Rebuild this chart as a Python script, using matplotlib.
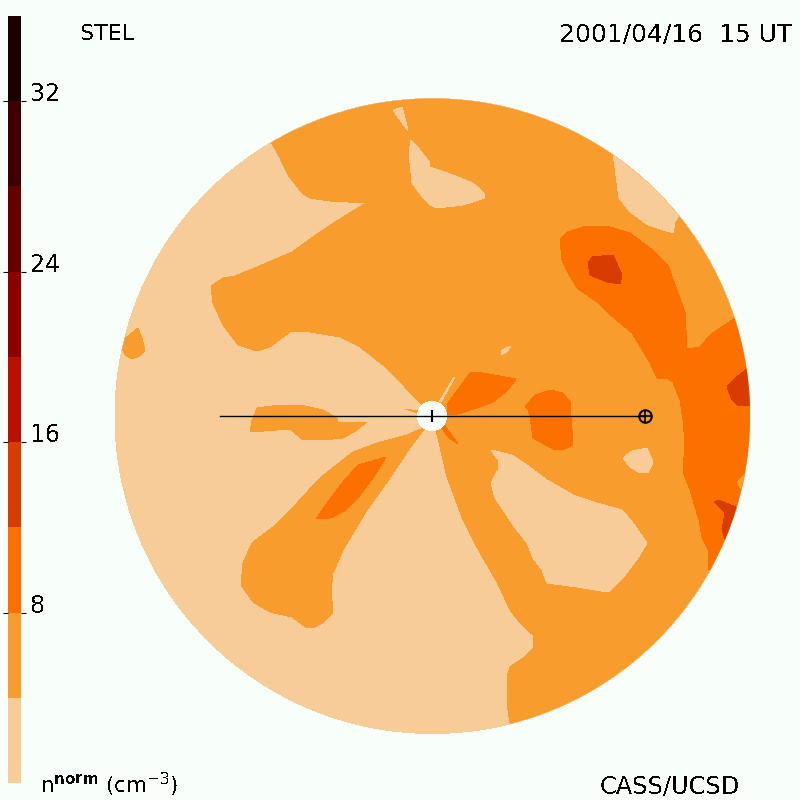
#!/usr/bin/env python3
"""Remote sensed density sphere, STEL, 2001/04/16 15 UT - figure generation"""

import matplotlib
matplotlib.use('Agg')
import matplotlib.pyplot as plt
from matplotlib.patches import Circle

plt.rcParams['font.family'] = ['DejaVu Sans']
plt.rcParams['mathtext.fontset'] = 'dejavusans'
plt.rcParams['text.antialiased'] = False

# Colour bar
LEVELS = [0, 4, 8, 12, 16, 20, 24, 28, 32]
LEVEL_COLORS = ['#F8CC98', '#F99C2E', '#FC7000', '#D93C00', '#BB0F00',
                '#8D0000', '#640000', '#3F0000', '#1C0000']
LEVEL_STEP = 4
CBAR_TICKS = [8, 16, 24, 32]

BACKGROUND = '#F8FFFB'

# Sphere, Sun and Earth in image coordinates
DISK_CENTER = (432.5, 416)
DISK_RADIUS = 317.5
SUN_RADIUS = 14.5
SUN_XY = (432, 416)
EARTH_XY = (645, 416)
LOS_X = [220, 645]
LOS_Y = [416, 416]

# Contour outlines, as (level index, outline)
# -- level 1
main_orange = [(271, 142), (280, 158), (288, 175), (302, 193), (310, 198), (330, 201),
               (366, 203), (343, 217), (320, 232), (292, 252), (257, 267), (235, 276),
               (223, 278), (211, 286), (213, 303), (223, 325), (238, 345), (257, 351),
               (270, 347), (282, 338), (290, 332), (310, 332), (340, 337), (360, 347),
               (383, 365), (403, 385), (422, 405), (436, 430), (447, 477), (463, 520),
               (480, 553), (497, 582), (510, 610), (520, 623), (533, 635), (533, 648),
               (523, 658), (510, 667), (507, 677), (507, 703), (510, 723), (510, 760),
               (800, 760), (800, 40), (260, 40), (265, 130)]
left_blob = [(138, 328), (142, 338), (145, 351), (138, 357), (132, 359), (125, 355),
             (122, 348), (123, 340)]
mid_left_band = [(253, 418), (257, 408), (280, 405), (300, 405), (323, 410), (337, 418),
                 (338, 423), (367, 422), (357, 430), (343, 438), (323, 440), (303, 440),
                 (297, 435), (290, 429), (250, 432), (252, 420)]
hole_wedge_left = [(405, 409), (418, 411), (418, 413)]
lower_arm = [(425, 428), (407, 452), (390, 478), (367, 510), (343, 550), (333, 573),
             (331, 590), (333, 613), (323, 623), (313, 628), (307, 628), (292, 617),
             (270, 612), (253, 602), (241, 585), (243, 563), (252, 543), (273, 527),
             (297, 503), (320, 478), (353, 452), (377, 443), (407, 435), (418, 430)]

# -- level 0 islands on top of level 1
top_sliver = [(393, 110), (402, 107), (405, 118), (408, 131), (400, 120)]
top_island = [(411, 140), (409, 153), (412, 183), (423, 198), (430, 205), (437, 208),
              (463, 205), (485, 198), (485, 194), (473, 183), (453, 175), (430, 167),
              (430, 163), (420, 150)]
rim_island = [(613, 153), (619, 198), (630, 212), (648, 225), (673, 233), (675, 222),
              (679, 215), (700, 180), (640, 130)]
small_fleck = [(501, 355), (502, 350), (511, 346), (507, 352)]
thin_ray = [(439, 402), (454, 377), (455, 377), (441, 402)]
se_island = [(491, 450), (512, 455), (527, 465), (547, 480), (573, 495), (597, 503),
             (622, 510), (633, 523), (647, 543), (638, 558), (623, 578), (608, 592),
             (577, 587), (547, 583), (542, 570), (533, 558), (527, 543), (513, 525),
             (495, 498), (491, 483), (498, 470), (498, 460)]
small_island = [(623, 458), (632, 451), (647, 448), (653, 462), (648, 473), (640, 473),
                (630, 467)]

# -- level 2
arm_core = [(386, 457), (373, 478), (358, 498), (343, 512), (330, 518), (316, 519),
            (327, 503), (343, 482), (358, 465)]
hole_wedge_low = [(443, 423), (458, 444), (448, 437), (441, 427)]
ne_of_sun = [(447, 410), (448, 403), (470, 373), (477, 372), (516, 379), (508, 390),
             (493, 402), (477, 408), (458, 414), (448, 415)]
east_of_sun = [(525, 407), (535, 395), (550, 390), (563, 393), (571, 403), (571, 418),
               (572, 430), (573, 445), (563, 450), (553, 449), (533, 438), (530, 417),
               (528, 410)]
east_band = [(560, 240), (567, 232), (587, 226), (610, 227), (630, 233), (650, 248),
             (668, 265), (678, 293), (685, 312), (687, 349), (700, 347), (710, 335),
             (735, 318), (780, 320), (790, 450), (760, 570), (709, 570), (708, 550),
             (702, 537), (699, 520), (690, 490), (683, 472), (685, 443), (683, 420),
             (680, 400), (673, 382), (668, 379), (657, 378), (650, 363), (632, 333),
             (613, 317), (597, 302), (577, 288), (568, 273), (562, 260)]

# -- level 1 notch on the east rim
rim_notch = [(737, 483), (745, 474), (760, 474), (760, 492), (742, 490)]

# -- level 3
band_core = [(588, 263), (592, 257), (613, 255), (622, 275), (620, 284), (607, 282),
             (590, 275)]
rim_core_north = [(747, 369), (735, 378), (727, 387), (732, 400), (738, 406), (770, 406),
                  (770, 369)]
rim_core_south = [(714, 502), (718, 500), (736, 507), (750, 507), (740, 545), (725, 539),
                  (722, 530), (725, 513), (720, 508)]

# Painted in this order, later outlines cover earlier ones
CONTOURS = [
    (1, main_orange), (1, left_blob), (1, mid_left_band), (1, hole_wedge_left), (1, lower_arm),
    (0, top_sliver), (0, top_island), (0, rim_island), (0, small_fleck), (0, thin_ray),
    (0, se_island), (0, small_island),
    (2, arm_core), (2, hole_wedge_low), (2, ne_of_sun), (2, east_of_sun), (2, east_band),
    (1, rim_notch),
    (3, band_core), (3, rim_core_north), (3, rim_core_south),
]

fig = plt.figure(figsize=(8, 8), dpi=100, facecolor=BACKGROUND)
ax = fig.add_axes([0, 0, 1, 1])
ax.set_xlim(0, 800)
ax.set_ylim(800, 0)
ax.axis('off')

# Sphere and contours
disk = Circle(DISK_CENTER, DISK_RADIUS, facecolor=LEVEL_COLORS[0], edgecolor='none',
              antialiased=False, zorder=1)
ax.add_patch(disk)
for level, outline in CONTOURS:
    xs, ys = zip(*outline)
    patches = ax.fill(xs, ys, color=LEVEL_COLORS[level], linewidth=0, antialiased=False, zorder=2)
    patches[0].set_clip_path(disk)

# Sun, line of sight and Earth
ax.add_patch(Circle(SUN_XY, SUN_RADIUS, facecolor=BACKGROUND, edgecolor='none',
                    antialiased=False, zorder=3))
ax.plot(LOS_X, LOS_Y, color='black', linewidth=1.0, zorder=4)
ax.plot(*SUN_XY, marker='|', color='black', markersize=9, markeredgewidth=1.5, zorder=5)
ax.plot(*EARTH_XY, marker='o', markerfacecolor='none', markeredgecolor='black',
        markersize=9, markeredgewidth=1.5, zorder=5)
ax.plot(*EARTH_XY, marker='+', color='black', markersize=9, markeredgewidth=1.2, zorder=5)

# Colour bar, 13 px wide, 767 px tall
cax = fig.add_axes([8 / 800, 1 - 783 / 800, 13 / 800, 767 / 800])
cax.bar([0] * len(LEVELS), [LEVEL_STEP] * len(LEVELS), bottom=LEVELS, width=1,
        color=LEVEL_COLORS, linewidth=0, antialiased=False)
cax.set_xlim(-0.5, 0.5)
cax.set_ylim(LEVELS[0], LEVELS[-1] + LEVEL_STEP)
cax.set_xticks([])
cax.set_yticks(CBAR_TICKS)
cax.set_yticklabels([])
cax.tick_params(axis='y', left=True, right=True, length=3.6, width=0.8, color='black')
for side in cax.spines.values():
    side.set_visible(False)
for tick in CBAR_TICKS:
    cax.annotate(str(tick), xy=(1, tick), xycoords=('axes fraction', 'data'),
                 xytext=(9, 0), textcoords='offset pixels', fontsize=17,
                 ha='left', va='baseline', color='black')

# Titles
fig.text(80 / 800, 1 - 40 / 800, 'STEL', fontsize=16, ha='left', va='baseline', color='black')
fig.text(792 / 800, 1 - 41 / 800, '2001/04/16  15 UT', fontsize=18, ha='right', va='baseline', color='black')
fig.text(40 / 800, 1 - 793 / 800, r'n$^{\mathbf{norm}}$ (cm$^{-3}$)', fontsize=15.5,
         ha='left', va='baseline', color='black')
fig.text(740 / 800, 1 - 793 / 800, 'CASS/UCSD', fontsize=17.3, ha='right', va='baseline', color='black')

fig.savefig('out.png', dpi=100, facecolor=BACKGROUND)
plt.close(fig)
